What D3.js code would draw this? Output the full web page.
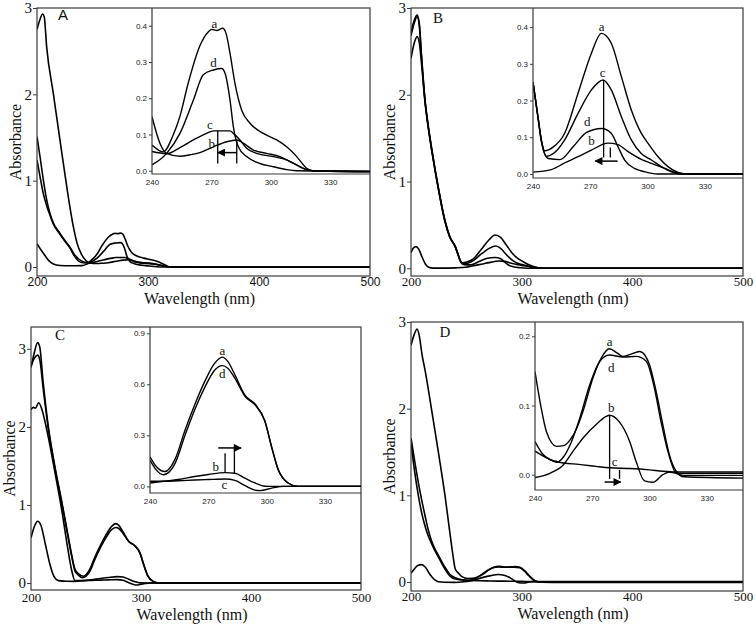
<!DOCTYPE html>
<html>
<head>
<meta charset="utf-8">
<script src="https://cdn.jsdelivr.net/npm/d3@7"></script>
<style>
  body { margin: 0; background: #fff; }
  svg { display: block; }
</style>
</head>
<body>
<div id="chart"></div>
<script>
// [wavelength (nm), absorbance]
// far-UV part
const A_a_uv = [[200,1.51],[202.7,1.28],[205.7,1.01],[208.7,0.78],[211.7,0.62],[214.7,0.51],[220.7,0.39],[225,0.31],[229.7,0.23],[234,0.14]];
const A_b_uv = [[200,2.75],[202.5,2.86],[205,2.93],[206.5,2.9],[208.7,2.55],[214.7,2.01],[220.7,1.47],[226.8,0.93],[232.7,0.47],[236,0.28]];
const A_c_uv = [[200,1.24],[202.7,1.05],[205.7,0.85],[208.7,0.71],[211.7,0.6],[214.7,0.5],[220.7,0.38],[225,0.3],[229.7,0.22],[234,0.12]];
const A_d_uv = [[200,0.27],[203,0.21],[205.7,0.16],[210.2,0.08],[214.7,0.035],[220.7,0.018],[230,0.014]];

const B_a_uv = [[200,2.72],[203,2.86],[205.5,2.92],[207.5,2.82],[209.5,2.45],[212.6,1.95],[215.5,1.65],[218.7,1.38],[224.7,0.93],[230.7,0.55],[235,0.37]];
const B_b_uv = [[200,0.18],[202,0.23],[204.5,0.25],[207,0.22],[210,0.13],[213,0.05],[216,0.012],[220,0.002],[230,0.002]];
const B_c_uv = [[200,2.68],[203,2.83],[205.5,2.9],[207.5,2.8],[209.5,2.44],[212.6,1.94],[215.5,1.64],[218.7,1.37],[224.7,0.92],[230.7,0.54],[235,0.36]];
const B_d_uv = [[200,2.42],[203,2.6],[205.5,2.67],[207.5,2.6],[209.5,2.36],[212.6,1.92],[215.5,1.63],[218.7,1.36],[224.7,0.92],[230.7,0.54],[235,0.36]];

const C_a_uv = [[200,2.76],[203,2.95],[206,3.08],[208,3.02],[211,2.58],[215.5,2.03],[222,1.47],[228,1.04],[233,0.66],[237,0.36]];
const C_b_uv = [[200,0.58],[203,0.72],[206,0.79],[209,0.74],[213,0.5],[217,0.25],[221,0.08],[225,0.03],[232,0.022]];
const C_c_uv = [[200,2.22],[202,2.25],[204,2.24],[207,2.31],[210,2.22],[213,2.05],[216,1.85],[222,1.4],[228,0.93],[233,0.48],[237,0.16]];
const C_d_uv = [[200,2.78],[203,2.88],[206,2.92],[208,2.86],[211,2.5],[215.5,2.0],[222,1.45],[228,1.02],[233,0.64],[237,0.34]];

const D_a_uv = [[200,2.73],[203,2.86],[205.5,2.92],[207.5,2.84],[210,2.62],[212.6,2.45],[218.7,1.98],[224.7,1.5],[230.7,1.0],[235,0.58],[238,0.3]];
const D_b_uv = [[200,0.1],[203,0.15],[206,0.19],[209.6,0.2],[213,0.17],[217,0.09],[221,0.03],[224.7,0.002],[230,-0.003]];
const D_c_uv = [[200,1.6],[203,1.3],[206.6,1.0],[209.6,0.8],[212.6,0.65],[215.6,0.53],[218.7,0.44],[221.7,0.36],[224.7,0.29],[230.7,0.15],[235,0.07]];
const D_d_uv = [[200,1.66],[203,1.42],[206.6,1.15],[209.6,0.95],[212.6,0.77],[215.6,0.6],[218.7,0.47],[221.7,0.38],[224.7,0.31],[230.7,0.17],[235,0.09]];

// 240-350 nm part
const A_a_in = [[240,0.071],[245.7,0.052],[250.8,0.1],[254.1,0.15],[258.2,0.24],[264.2,0.345],[268.4,0.383],[270.2,0.39],[272.7,0.387],[275.7,0.393],[277.4,0.379],[279.4,0.324],[281.9,0.241],[285.3,0.167],[289.5,0.131],[296.2,0.103],[303,0.085],[308,0.066],[313.1,0.039],[318.1,0.007],[321.3,0],[350,-0.003]];
const A_b_in = [[240,0.149],[244,0.076],[247.4,0.048],[254.1,0.04],[259.2,0.044],[264.2,0.05],[271,0.066],[277.7,0.08],[282.8,0.085],[286.1,0.076],[291.2,0.057],[297.9,0.048],[304.6,0.039],[311.4,0.02],[318.1,0.003],[321.3,0],[350,-0.002]];
const A_c_in = [[240,0.053],[247.4,0.047],[254.1,0.064],[260.9,0.085],[267.6,0.103],[271,0.11],[279.4,0.11],[281.1,0.103],[284.4,0.085],[287.8,0.062],[292.9,0.048],[301.3,0.039],[308,0.03],[313.1,0.016],[318.1,0.003],[321.3,0],[350,-0.001]];
const A_d_in = [[240,0.016],[247.4,0.048],[254.1,0.103],[260.9,0.195],[265.9,0.265],[271,0.278],[275.2,0.282],[276.9,0.269],[279.4,0.195],[281.1,0.121],[283.6,0.066],[287.8,0.039],[294.5,0.02],[301.3,0.011],[308,0.003],[313,0],[350,-0.002]];

const B_a_in = [[240,0.25],[242.6,0.156],[244.4,0.093],[246.1,0.063],[250.5,0.073],[256.6,0.111],[263.6,0.22],[270.6,0.329],[275.8,0.383],[281,0.356],[286.3,0.265],[291.5,0.174],[296.7,0.111],[300.2,0.084],[305.5,0.047],[310.7,0.02],[316,0.004],[320,0],[350,0]];
const B_b_in = [[240,0.005],[249.6,0.012],[256.6,0.03],[263.6,0.047],[270.6,0.065],[279.3,0.084],[284.5,0.08],[289.8,0.061],[296.7,0.04],[302,0.029],[309,0.015],[314.3,0.004],[320,0],[350,0]];
const B_c_in = [[240,0.25],[242.6,0.155],[244.4,0.09],[247,0.048],[251,0.057],[256.6,0.093],[263.6,0.165],[270.6,0.229],[276.7,0.256],[281,0.229],[286.3,0.156],[291.5,0.093],[296.7,0.056],[302,0.038],[307.2,0.02],[312.4,0.006],[318,0],[350,0]];
const B_d_in = [[240,0.25],[242.6,0.154],[244.4,0.088],[248,0.042],[254.1,0.039],[261,0.074],[268.1,0.113],[276,0.124],[281,0.111],[284.5,0.074],[288,0.038],[293.2,0.015],[298.5,0.006],[305,0],[350,0]];

const C_a_in = [[240,0.174],[243,0.12],[247.7,0.087],[252.9,0.16],[258,0.33],[263,0.48],[268.3,0.62],[273,0.72],[277.2,0.76],[280,0.735],[283.7,0.655],[288.9,0.535],[294,0.484],[299,0.387],[302.6,0.23],[306,0.097],[311,0.02],[316,0],[350,0]];
const C_b_in = [[240,0.02],[247,0.03],[254.6,0.04],[263,0.058],[270,0.07],[278.6,0.081],[283.7,0.077],[288.9,0.048],[294,0.02],[299,0.001],[305,0],[350,0]];
const C_c_in = [[240,0.03],[247,0.03],[254.6,0.033],[263,0.037],[270,0.04],[278.6,0.043],[283.7,0.035],[288.9,0.004],[294,-0.022],[296.6,-0.025],[302.6,-0.01],[309,0],[350,0]];
const C_d_in = [[240,0.155],[243,0.1],[246.9,0.068],[252.9,0.135],[258,0.3],[263,0.45],[268.3,0.585],[273,0.68],[277.2,0.71],[280,0.695],[283.7,0.635],[288.9,0.528],[294,0.48],[299,0.385],[302.6,0.228],[306,0.095],[311,0.02],[316,0],[350,0]];

const D_a_in = [[240,0.149],[243,0.1],[246,0.062],[251.3,0.041],[255,0.042],[258.3,0.05],[262,0.068],[265.2,0.092],[270.4,0.14],[274.8,0.169],[279,0.182],[283,0.176],[286,0.171],[290,0.174],[294.8,0.178],[297.5,0.173],[300,0.159],[303.5,0.12],[307,0.072],[310.4,0.029],[314,0.005],[318,-0.003],[350,-0.005]];
const D_b_in = [[240,-0.004],[247.8,0.002],[254.8,0.014],[260,0.034],[265.2,0.053],[272.2,0.073],[279,0.086],[284,0.077],[289.6,0.048],[293,0.019],[297.4,-0.009],[301.7,-0.011],[307,0],[310.4,0.004],[314,0.002],[350,0.002]];
const D_c_in = [[240,0.034],[247.8,0.022],[254.8,0.017],[263,0.015],[272,0.012],[279,0.01],[289.6,0.009],[300,0.007],[307,0.005],[314,0.004],[350,0.004]];
const D_d_in = [[240,0.048],[244,0.03],[247.8,0.022],[251.3,0.018],[255,0.026],[259,0.047],[263.5,0.082],[268.7,0.13],[274,0.164],[279,0.173],[286,0.17],[293,0.171],[298.3,0.164],[302.6,0.125],[306,0.077],[309.6,0.034],[314,0.002],[318,-0.001],[350,-0.001]];

const curveNames = ["a", "b", "c", "d"];
const mainXTicks = [200, 300, 400, 500];
const mainYTicks = [0, 1, 2, 3];
const insetXTicks = [240, 270, 300, 330];
const insetYTicksAB = [0, 0.1, 0.2, 0.3, 0.4];
const insetYTicksC = [0, 0.3, 0.6, 0.9];
const insetYTicksD = [0, 0.1, 0.2];

const serif = "'Liberation Serif', 'Times New Roman', 'DejaVu Serif', serif";
const sans = "'Liberation Sans', Arial, sans-serif";
const frameColor = "#3a3a3a";

// layout of the four panels (pixels) and inset annotations (data units)
const panels = [
  {id: "A", left: 37, right: 370, top: 8, bottom: 276, yDom: [-0.104, 3], tickFont: sans, xPad: 1, letterPos: [26, 12],
   curves: {a: [A_a_uv, A_a_in], b: [A_b_uv, A_b_in], c: [A_c_uv, A_c_in], d: [A_d_uv, A_d_in]},
   inset: {left: 152, bottom: 174, xDom: [240, 350.1], yDom: [-0.009, 0.449], yTicks: insetYTicksAB},
   labels: {a: [271.5, 0.395], d: [271, 0.285], c: [269.3, 0.115], b: [270.2, 0.064]},
   vlines: [[273.2, 0.11, 0.02], [282.8, 0.085, 0.02]], arrow: [282.8, 273.2, 0.05]},
  {id: "B", left: 411, right: 743, top: 8, bottom: 276, yDom: [-0.089, 3], tickFont: serif, xPad: 1, letterPos: [27, 15],
   curves: {a: [B_a_uv, B_a_in], b: [B_b_uv, B_b_in], c: [B_c_uv, B_c_in], d: [B_d_uv, B_d_in]},
   inset: {left: 533, bottom: 178, xDom: [240, 350], yDom: [-0.011, 0.452], yTicks: insetYTicksAB},
   labels: {a: [276, 0.39], c: [276.5, 0.265], d: [268.4, 0.13], b: [270.7, 0.078]},
   vlines: [[277, 0.256, 0.045], [280.5, 0.072, 0.045]], arrow: [284.3, 272.6, 0.035]},
  {id: "C", left: 31, right: 361, top: 327, bottom: 590, yDom: [-0.09, 3.28], tickFont: serif, xPad: 3, letterPos: [29, 13],
   curves: {a: [C_a_uv, C_a_in], b: [C_b_uv, C_b_in], c: [C_c_uv, C_c_in], d: [C_d_uv, C_d_in]},
   inset: {left: 150, bottom: 493, xDom: [240, 348.5], yDom: [-0.039, 0.937], yTicks: insetYTicksC},
   labels: {a: [277.2, 0.775], d: [277.2, 0.64], b: [273.8, 0.092], c: [278.2, -0.014]},
   vlines: [[278.6, 0.194, 0.081], [283.4, 0.223, 0.074]], arrow: [275.1, 286.8, 0.226]},
  {id: "D", left: 411, right: 743, top: 322, bottom: 591, yDom: [-0.104, 3], tickFont: serif, xPad: 1, letterPos: [34, 14.5],
   curves: {a: [D_a_uv, D_a_in], b: [D_b_uv, D_b_in], c: [D_c_uv, D_c_in], d: [D_d_uv, D_d_in]},
   inset: {left: 535, bottom: 490, xDom: [240, 349], yDom: [-0.0221, 0.2207], yTicks: insetYTicksD},
   labels: {a: [279.1, 0.186], d: [280, 0.148], b: [280, 0.091], c: [281.7, 0.0125]},
   vlines: [[279.1, 0.086, -0.006], [284.3, 0.007, -0.006]], arrow: [276.5, 284.9, -0.0106]}
];

const svg = d3.select("#chart").append("svg")
  .attr("width", 756)
  .attr("height", 630);

const defs = svg.append("defs");
defs.append("marker")
  .attr("id", "head")
  .attr("viewBox", "0 0 10 10")
  .attr("refX", 9).attr("refY", 5)
  .attr("markerWidth", 9).attr("markerHeight", 8)
  .attr("markerUnits", "userSpaceOnUse")
  .attr("orient", "auto")
  .append("path")
  .attr("d", "M0,0L10,5L0,10Z")
  .attr("fill", "#000");

// main view = far-UV part + inset part + flat tail to 500 nm
const mainSeries = (uv, ins) => {
  const last = uv[uv.length - 1][0];
  const rest = ins.filter(p => p[0] > last);
  return uv.concat(rest).concat([[500, ins[ins.length - 1][1]]]);
};

panels.forEach(p => {
  const g = svg.append("g");

  const x = d3.scaleLinear().domain([200, 500]).range([p.left, p.right]);
  const y = d3.scaleLinear().domain(p.yDom).range([p.bottom, p.top]);

  defs.append("clipPath").attr("id", "clip" + p.id)
    .append("rect")
    .attr("x", p.left).attr("y", p.top)
    .attr("width", p.right - p.left).attr("height", p.bottom - p.top);

  const line = d3.line()
    .x(d => x(d[0]))
    .y(d => y(d[1]))
    .curve(d3.curveMonotoneX);

  g.append("g")
    .attr("clip-path", `url(#clip${p.id})`)
    .selectAll("path")
    .data(curveNames)
    .join("path")
    .attr("d", k => line(mainSeries(p.curves[k][0], p.curves[k][1])))
    .attr("fill", "none")
    .attr("stroke", "#000")
    .attr("stroke-width", 1.6)
    .attr("stroke-linejoin", "round");

  // y axis
  g.append("g")
    .attr("transform", `translate(${p.left},0)`)
    .call(d3.axisLeft(y).tickValues(mainYTicks).tickSize(4).tickPadding(1).tickFormat(d3.format("d")))
    .call(a => a.select(".domain").remove())
    .call(a => a.selectAll("line").attr("stroke", frameColor))
    .call(a => a.selectAll("text")
      .style("font-family", serif).style("font-size", "15px").attr("fill", "#111"));

  // x axis
  g.append("g")
    .attr("transform", `translate(0,${p.bottom})`)
    .call(d3.axisBottom(x).tickValues(mainXTicks).tickSize(0).tickPadding(p.xPad))
    .call(a => a.select(".domain").remove())
    .call(a => a.selectAll("text")
      .style("font-family", p.tickFont)
      .style("font-size", p.tickFont === sans ? "12px" : "13px").attr("fill", "#111"));

  g.append("rect")
    .attr("x", p.left).attr("y", p.top)
    .attr("width", p.right - p.left).attr("height", p.bottom - p.top)
    .attr("fill", "none")
    .attr("stroke", frameColor)
    .attr("stroke-width", 1.2);

  g.append("text")
    .attr("x", (p.left + p.right) / 2 - 4)
    .attr("y", p.bottom + 27 + p.xPad)
    .attr("text-anchor", "middle")
    .style("font-family", serif)
    .style("font-size", "16px")
    .attr("fill", "#111")
    .text("Wavelength (nm)");

  g.append("text")
    .attr("transform", `translate(${p.left - 16},${(p.top + p.bottom) / 2}) rotate(-90)`)
    .attr("text-anchor", "middle")
    .style("font-family", serif)
    .style("font-size", "16px")
    .attr("fill", "#111")
    .text("Absorbance");

  g.append("text")
    .attr("x", p.left + p.letterPos[0])
    .attr("y", p.top + p.letterPos[1])
    .attr("text-anchor", "middle")
    .style("font-family", p.id === "A" ? sans : serif)
    .style("font-size", "15px")
    .attr("fill", "#111")
    .text(p.id);

  // inset
  const ins = p.inset;
  const xi = d3.scaleLinear().domain(ins.xDom).range([ins.left, p.right]);
  const yi = d3.scaleLinear().domain(ins.yDom).range([ins.bottom, p.top]);

  defs.append("clipPath").attr("id", "iclip" + p.id)
    .append("rect")
    .attr("x", ins.left).attr("y", p.top)
    .attr("width", p.right - ins.left).attr("height", ins.bottom - p.top);

  const iline = d3.line()
    .x(d => xi(d[0]))
    .y(d => yi(d[1]))
    .curve(d3.curveMonotoneX);

  const ig = g.append("g");

  ig.append("g")
    .attr("clip-path", `url(#iclip${p.id})`)
    .selectAll("path")
    .data(curveNames)
    .join("path")
    .attr("d", k => iline(p.curves[k][1]))
    .attr("fill", "none")
    .attr("stroke", "#000")
    .attr("stroke-width", 1.4)
    .attr("stroke-linejoin", "round");

  ig.append("g")
    .attr("transform", `translate(${ins.left},0)`)
    .call(d3.axisLeft(yi).tickValues(ins.yTicks).tickSize(3).tickPadding(2).tickFormat(d3.format(".1f")))
    .call(a => a.select(".domain").remove())
    .call(a => a.selectAll("line").attr("stroke", frameColor))
    .call(a => a.selectAll("text").style("font-family", sans).style("font-size", "8px").attr("fill", "#222"));

  ig.append("g")
    .attr("transform", `translate(0,${ins.bottom})`)
    .call(d3.axisBottom(xi).tickValues(insetXTicks).tickSize(0).tickPadding(5))
    .call(a => a.select(".domain").remove())
    .call(a => a.selectAll("text").style("font-family", sans).style("font-size", "8px").attr("fill", "#222"));

  ig.append("path")
    .attr("d", `M${ins.left},${p.top}V${ins.bottom}H${p.right}`)
    .attr("fill", "none")
    .attr("stroke", frameColor)
    .attr("stroke-width", 1.2);

  ig.selectAll(".vl")
    .data(p.vlines)
    .join("line")
    .attr("x1", d => xi(d[0])).attr("x2", d => xi(d[0]))
    .attr("y1", d => yi(d[1])).attr("y2", d => yi(d[2]))
    .attr("stroke", "#000")
    .attr("stroke-width", 1.3);

  ig.append("line")
    .attr("x1", xi(p.arrow[0])).attr("x2", xi(p.arrow[1]))
    .attr("y1", yi(p.arrow[2])).attr("y2", yi(p.arrow[2]))
    .attr("stroke", "#000")
    .attr("stroke-width", 1.5)
    .attr("marker-end", "url(#head)");

  ig.selectAll(".lbl")
    .data(Object.entries(p.labels))
    .join("text")
    .attr("x", d => xi(d[1][0]))
    .attr("y", d => yi(d[1][1]))
    .attr("text-anchor", "middle")
    .style("font-family", serif)
    .style("font-size", "13px")
    .attr("fill", "#111")
    .text(d => d[0]);
});
</script>
</body>
</html>
